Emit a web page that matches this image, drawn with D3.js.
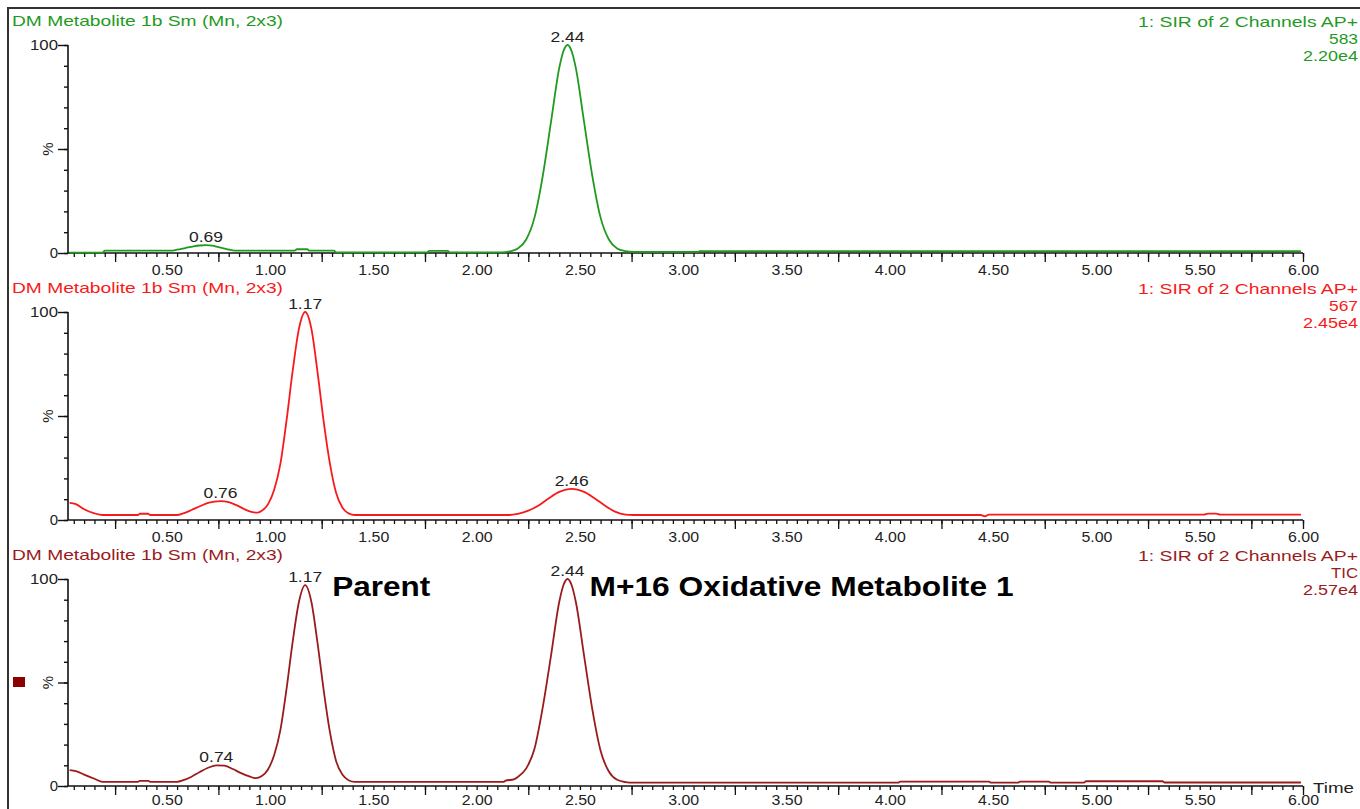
<!DOCTYPE html>
<html>
<head>
<meta charset="utf-8">
<script src="https://cdn.jsdelivr.net/npm/d3@7"></script>
<style>
  body { margin: 0; background: #fff; }
  svg { display: block; }
  text { font-family: "Liberation Sans", Arial, sans-serif; }
</style>
</head>
<body>
<svg id="chart" width="1360" height="809"></svg>
<script>
// ---- Chromatogram data (retention time in min, relative intensity in %) ----
const timeSIR583 = [0.03,0.19,0.20,0.52,0.55,0.59,0.63,0.66,0.69,0.72,0.75,0.79,0.83,1.12,1.13,1.18,1.19,1.31,1.32,1.76,1.77,1.86,1.87,2.12,2.16,2.20,2.24,2.28,2.32,2.36,2.40,2.42,2.44,2.46,2.48,2.52,2.56,2.60,2.64,2.68,2.72,2.76,3.07,3.08,5.99];
const pctSIR583  = [0.2,0.2,1.1,1.1,1.6,2.4,3.2,3.6,3.8,3.5,2.8,1.9,1.1,1.1,1.8,1.8,1.1,1.1,0.3,0.3,1.0,1.0,0.3,0.3,0.8,2.2,6.5,17,37,63,89,97,100,97,89,63,37,17,6.5,2.2,0.9,0.5,0.5,0.9,0.9];

const timeSIR567 = [0.03,0.06,0.10,0.15,0.19,0.36,0.37,0.41,0.42,0.55,0.58,0.62,0.66,0.70,0.76,0.80,0.84,0.88,0.91,0.94,0.96,0.99,1.02,1.05,1.08,1.11,1.14,1.17,1.20,1.23,1.26,1.29,1.32,1.35,1.38,1.41,2.16,2.20,2.25,2.30,2.35,2.40,2.46,2.52,2.57,2.62,2.67,2.72,2.76,4.44,4.46,4.48,5.52,5.54,5.58,5.60,5.99];
const pctSIR567  = [8.2,7.6,5.2,3.2,2.4,2.4,3.0,3.0,2.4,2.4,3.2,4.8,6.6,8.2,9.1,8.6,7.0,5.0,3.9,3.5,4.4,7.5,14.5,27,48,72,92,100,92,71,47,27,13,6,3.2,2.4,2.4,3.0,4.5,7,10.5,13.5,15,13.5,10.5,7,4,2.6,2.4,2.4,1.8,2.6,2.6,3.1,3.1,2.6,2.6];

const timeTIC = [0.03,0.06,0.10,0.15,0.19,0.36,0.37,0.41,0.42,0.55,0.58,0.62,0.66,0.70,0.74,0.78,0.82,0.86,0.90,0.93,0.96,0.99,1.02,1.05,1.08,1.11,1.14,1.17,1.20,1.23,1.26,1.29,1.32,1.35,1.38,1.41,2.13,2.14,2.18,2.20,2.24,2.28,2.32,2.36,2.40,2.42,2.44,2.46,2.48,2.52,2.56,2.60,2.64,2.68,2.72,2.76,4.04,4.05,4.48,4.49,4.62,4.63,4.77,4.78,4.94,4.95,5.32,5.33,5.99];
const pctTIC  = [7.7,7.2,5.5,3.5,2.0,2.0,2.5,2.5,2.0,2.0,2.8,4.5,6.8,8.8,10.0,9.8,8.2,6.2,4.6,3.8,4.8,8,15,27,47,70,89,97,89,69,46,26,12,5.5,2.8,2.0,2.0,2.6,3.2,4.4,8.5,18,38,63,89,97,100,97,89,63,37,17,7,3,1.9,1.6,1.6,2.1,2.1,1.6,1.6,2.1,2.1,1.6,1.6,2.3,2.3,1.7,1.7];

// Labelled peak apexes (retention times)
const peaksSIR583 = [0.69, 2.44];
const peaksSIR567 = [0.76, 1.17, 2.46];
const peaksTIC    = [0.74, 1.17, 2.44];

// Header texts
const sampleNames   = ["DM Metabolite 1b Sm (Mn, 2x3)", "DM Metabolite 1b Sm (Mn, 2x3)", "DM Metabolite 1b Sm (Mn, 2x3)"];
const functionNames = ["1: SIR of 2 Channels AP+", "1: SIR of 2 Channels AP+", "1: SIR of 2 Channels AP+"];
const channelNames  = ["583", "567", "TIC"];
const fullScales    = ["2.20e4", "2.45e4", "2.57e4"];

// Axis ticks
const xLabelTicks = [0.5,1.0,1.5,2.0,2.5,3.0,3.5,4.0,4.5,5.0,5.5,6.0];
const yLabelTicks = [0, 100];

// Peak identities on the TIC trace
const compoundNames = ["Parent", "M+16 Oxidative Metabolite 1"];
const compoundTimes = [1.17, 2.44];

// ---- Layout ----
const svg = d3.select("#chart");
const W = 1360, H = 809;
const colors = ["#1f9a1f", "#f81a1a", "#9a1b1b"];
const panels = [
  { time: timeSIR583, pct: pctSIR583, peaks: peaksSIR583, top: 45,  bottom: 253, labelY: 22 },
  { time: timeSIR567, pct: pctSIR567, peaks: peaksSIR567, top: 312, bottom: 520, labelY: 22 },
  { time: timeTIC,    pct: pctTIC,    peaks: peaksTIC,    top: 579, bottom: 786, labelY: 19 }
];

const x = d3.scaleLinear().domain([0.022, 6.0]).range([68, 1303]);
const fmt = d3.format(".2f");

function fit(sel, w) {
  sel.attr("textLength", w).attr("lengthAdjust", "spacingAndGlyphs");
}

// Outer frame (top and left edges)
svg.append("path")
  .attr("d", `M8,${H} L8,8 L${W},8`)
  .attr("fill", "none").attr("stroke", "#333").attr("stroke-width", 2);

// Minor and major x tick positions
const minorX = d3.range(1, 121).map(k => +(k * 0.05).toFixed(2));
const quarterX = d3.range(0.25, 6.0, 0.5).map(v => +v.toFixed(2));

panels.forEach((p, i) => {
  const color = colors[i];
  const y = d3.scaleLinear().domain([0, 100]).range([p.bottom, p.top]);
  const g = svg.append("g");

  // Header: sample name (left), function / channel / full scale (right)
  g.append("text").attr("x", 12).attr("y", p.top - 19)
    .attr("fill", color).attr("font-size", 15)
    .text(sampleNames[i]).call(fit, 271);
  const rt = g.append("g").attr("fill", color).attr("font-size", 15).attr("text-anchor", "end");
  rt.append("text").attr("x", 1358).attr("y", p.top - 18.5).text(functionNames[i]).call(fit, 220);
  rt.append("text").attr("x", 1358).attr("y", p.top - 1.5).text(channelNames[i])
    .call(fit, channelNames[i] === "TIC" ? 27 : 29);
  rt.append("text").attr("x", 1358).attr("y", p.top + 15.5).text(fullScales[i]).call(fit, 55);

  // Y axis: minor ticks every 10 %, major at 0 / 50 / 100
  const yMinor = g.append("g").attr("transform", "translate(68,0)")
    .call(d3.axisLeft(y).tickValues(d3.range(0, 101, 10)).tickSize(4).tickFormat(""));
  yMinor.select(".domain").remove();
  const yMajor = g.append("g").attr("transform", "translate(68,0)")
    .call(d3.axisLeft(y).tickValues([0, 50, 100]).tickSize(10).tickPadding(0)
      .tickFormat(d => yLabelTicks.includes(d) ? String(d) : ""));
  yMajor.select(".domain").attr("d", `M0,${p.top}V${p.bottom}`);
  [yMinor, yMajor].forEach(a => {
    a.selectAll("line").attr("stroke", "#111").attr("stroke-width", 1.4);
  });
  yMajor.select(".domain").attr("stroke", "#111").attr("stroke-width", 1.6);
  yMajor.selectAll("text").attr("font-size", 15).attr("fill", "#222")
    .attr("font-family", "Liberation Sans, Arial, sans-serif");
  yMajor.selectAll("text").filter(d => d === 100).call(fit, 28);

  // "%" label at mid-height
  g.append("text")
    .attr("transform", `translate(53,${y(50)}) rotate(-90)`)
    .attr("text-anchor", "middle").attr("font-size", 15).attr("fill", "#222")
    .text("%");

  // X axis
  const xAxisG = g.append("g").attr("transform", `translate(0,${p.bottom})`);
  const xMinor = xAxisG.append("g")
    .call(d3.axisBottom(x).tickValues(minorX).tickSize(4).tickSizeOuter(0).tickFormat(""));
  xMinor.select(".domain").attr("d", `M68,0H${x(6.0)}`).attr("stroke", "#111").attr("stroke-width", 1.6);
  const xQuarter = xAxisG.append("g")
    .call(d3.axisBottom(x).tickValues(quarterX.concat([6.0])).tickSize(9).tickFormat(""));
  xQuarter.select(".domain").remove();
  const xLab = xAxisG.append("g")
    .call(d3.axisBottom(x).tickValues(xLabelTicks).tickSize(0).tickFormat(fmt));
  xLab.select(".domain").remove();
  xLab.selectAll("text").attr("y", p.labelY).attr("dy", 0)
    .attr("font-size", 15).attr("fill", "#222")
    .attr("font-family", "Liberation Sans, Arial, sans-serif")
    .call(fit, 31);
  xAxisG.selectAll("line").attr("stroke", "#111").attr("stroke-width", 1.3);

  // Trace
  const pts = p.time.map((t, k) => [t, p.pct[k]]);
  g.append("path")
    .datum(pts)
    .attr("fill", "none")
    .attr("stroke", color)
    .attr("stroke-width", 1.8)
    .attr("stroke-linejoin", "round")
    .attr("d", d3.line().curve(d3.curveMonotoneX).x(d => x(d[0])).y(d => y(d[1])));

  // Peak apex labels
  p.peaks.forEach(t => {
    const k = p.time.findIndex(v => Math.abs(v - t) < 1e-6);
    g.append("text")
      .attr("x", x(t)).attr("y", y(p.pct[k]) - 3)
      .attr("text-anchor", "middle").attr("font-size", 14).attr("fill", "#222")
      .text(fmt(t)).call(fit, 34);
  });

  // Compound names on the TIC trace
  if (i === 2) {
    const nameOffsets = [27, 22];
    const nameWidths = [98, 424];
    compoundNames.forEach((name, k) => {
      g.append("text")
        .attr("x", x(compoundTimes[k]) + nameOffsets[k]).attr("y", 596)
        .attr("font-size", 27).attr("font-weight", "bold").attr("fill", "#000")
        .text(name).call(fit, nameWidths[k]);
    });
    // Time axis caption
    g.append("text").attr("x", 1313).attr("y", 793)
      .attr("font-size", 15).attr("fill", "#222").text("Time").call(fit, 41);
    // Trace colour marker
    g.append("rect").attr("x", 13).attr("y", 677).attr("width", 12).attr("height", 10)
      .attr("fill", "#8b0000");
  }
});
</script>
</body>
</html>
